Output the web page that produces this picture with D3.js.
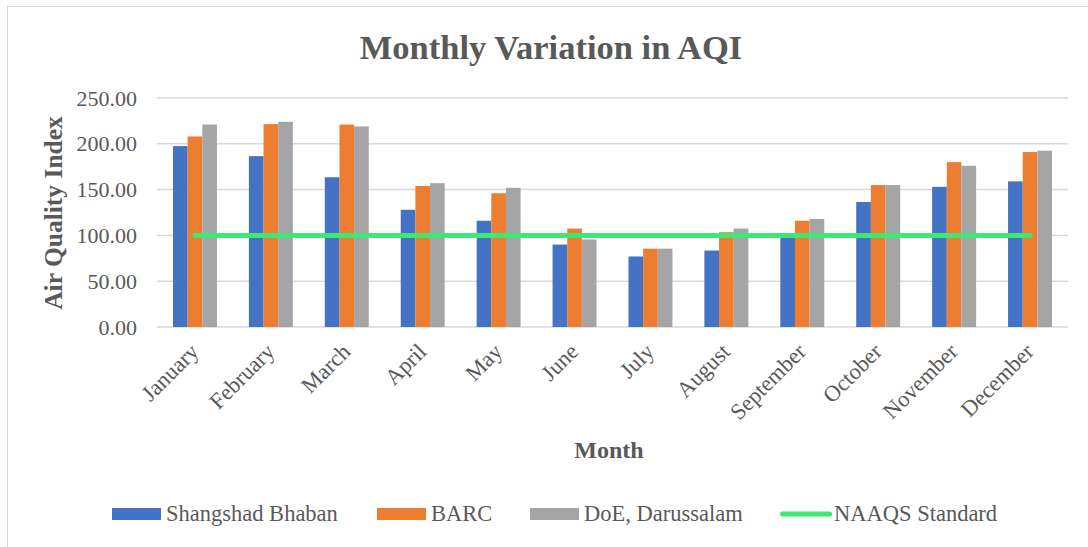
<!DOCTYPE html>
<html>
<head>
<meta charset="utf-8">
<script src="https://cdn.jsdelivr.net/npm/d3@7"></script>
<style>
  body { margin: 0; background: #fff; }
  text { font-family: "Liberation Serif", "Times New Roman", serif; fill: #595959; }
</style>
</head>
<body>
<div id="chart"></div>
<script>
const width = 1088;
const height = 547;

const months = ["January", "February", "March", "April", "May", "June",
  "July", "August", "September", "October", "November", "December"];
const shangshad = [197.5, 186.5, 163.5, 128, 116, 90, 77, 83.5, 99, 136.5, 153, 159];
const barc = [208, 221.5, 221, 154, 146, 107.5, 85.5, 103.5, 116, 155, 180, 191];
const doe = [221, 224, 219, 157, 152, 95.5, 85.5, 107.5, 118, 155, 176, 192.5];
const naaqs = [100, 100, 100, 100, 100, 100, 100, 100, 100, 100, 100, 100];
const yTicks = [0, 50, 100, 150, 200, 250];

const seriesNames = ["Shangshad Bhaban", "BARC", "DoE, Darussalam"];
const seriesValues = [shangshad, barc, doe];
const colors = ["#4472C4", "#ED7D31", "#A5A5A5"];
const lineColor = "#3EE874";

const svg = d3.select("#chart")
  .append("svg")
  .attr("width", width)
  .attr("height", height);

// chart frame (only left and top edges show in the picture)
svg.append("rect")
  .attr("x", 7.5).attr("y", 6.5)
  .attr("width", 1200).attr("height", 600)
  .attr("fill", "none")
  .attr("stroke", "#D9D9D9");

const xScale = d3.scaleBand()
  .domain(months)
  .range([157, 1068]);

const xInner = d3.scaleBand()
  .domain(d3.range(3))
  .range([0, xScale.bandwidth()])
  .paddingInner(0)
  .paddingOuter(1.09);

const yScale = d3.scaleLinear()
  .domain([0, 250])
  .range([327, 98]);

// gridlines
svg.append("g")
  .selectAll("line")
  .data(yTicks)
  .enter()
  .append("line")
  .attr("x1", 157).attr("x2", 1068)
  .attr("y1", d => yScale(d)).attr("y2", d => yScale(d))
  .attr("stroke", "#D9D9D9")
  .attr("stroke-width", 1.5);

// y tick labels
const yAxis = d3.axisLeft(yScale)
  .tickValues(yTicks)
  .tickFormat(d3.format(".2f"))
  .tickSize(0)
  .tickPadding(20);

svg.append("g")
  .attr("transform", "translate(157,0)")
  .call(yAxis)
  .call(g => g.select(".domain").remove())
  .selectAll("text")
  .attr("font-size", 22)
  .attr("font-family", "Liberation Serif, serif")
  .attr("fill", "#595959");

// bars
seriesValues.forEach(function(values, i) {
  svg.append("g")
    .selectAll("rect")
    .data(values)
    .enter()
    .append("rect")
    .attr("x", (d, j) => xScale(months[j]) + xInner(i))
    .attr("y", d => yScale(d))
    .attr("width", xInner.bandwidth())
    .attr("height", d => yScale(0) - yScale(d))
    .style("fill", colors[i]);
});

// NAAQS standard line
const line = d3.line()
  .x((d, j) => xScale(months[j]) + xScale.bandwidth() / 2)
  .y(d => yScale(d));

svg.append("path")
  .datum(naaqs)
  .attr("d", line)
  .attr("fill", "none")
  .attr("stroke", lineColor)
  .attr("stroke-width", 5)
  .attr("stroke-linecap", "round");

// x labels
svg.append("g")
  .selectAll("text")
  .data(months)
  .enter()
  .append("text")
  .attr("transform", d => "translate(" + (xScale(d) + xScale.bandwidth() / 2 + 5) + ",353) rotate(-45)")
  .attr("text-anchor", "end")
  .attr("font-size", 22.5)
  .text(d => d);

// titles
svg.append("text")
  .attr("x", 551).attr("y", 59)
  .attr("text-anchor", "middle")
  .attr("font-size", 34.5)
  .attr("font-weight", "bold")
  .text("Monthly Variation in AQI");

svg.append("text")
  .attr("x", 609).attr("y", 458)
  .attr("text-anchor", "middle")
  .attr("font-size", 24)
  .attr("font-weight", "bold")
  .text("Month");

svg.append("text")
  .attr("transform", "translate(62,213) rotate(-90)")
  .attr("text-anchor", "middle")
  .attr("font-size", 25.5)
  .attr("font-weight", "bold")
  .text("Air Quality Index");

// legend
const legendX = [112, 377, 530, 780];
const legendNames = seriesNames.concat(["NAAQS Standard"]);
const legend = svg.append("g");

legendNames.forEach(function(name, i) {
  if (i < 3) {
    legend.append("rect")
      .attr("x", legendX[i]).attr("y", 508)
      .attr("width", 49).attr("height", 12)
      .style("fill", colors[i]);
  } else {
    legend.append("line")
      .attr("x1", legendX[i] + 2.5).attr("x2", legendX[i] + 49.5)
      .attr("y1", 514).attr("y2", 514)
      .attr("stroke", lineColor)
      .attr("stroke-width", 5)
      .attr("stroke-linecap", "round");
  }
  legend.append("text")
    .attr("x", legendX[i] + 54).attr("y", 521)
    .attr("font-size", 22.5)
    .text(name);
});
</script>
</body>
</html>
